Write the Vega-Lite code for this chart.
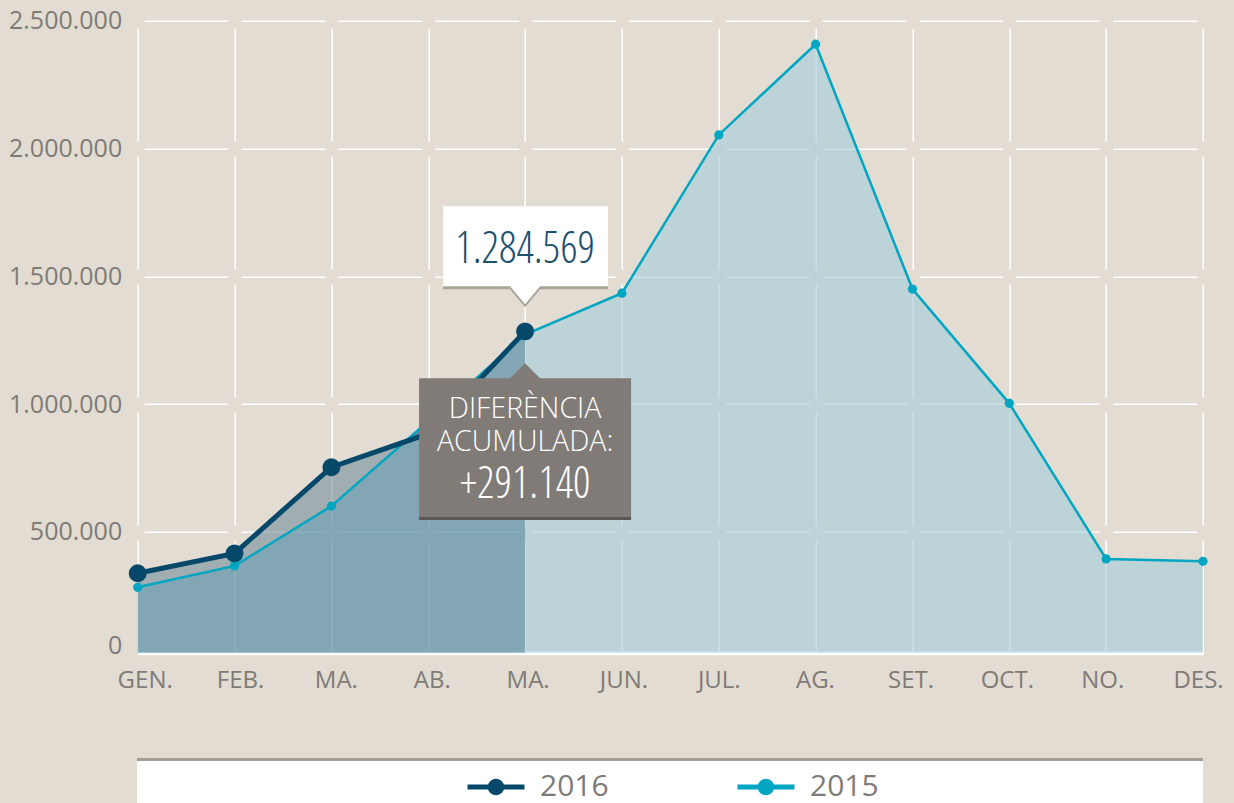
{
  "$schema": "https://vega.github.io/schema/vega-lite/v6.json",
  "width": 1065.3,
  "height": 632,
  "autosize": {"type": "none"},
  "padding": {"left": 137.7, "top": 20.7, "right": 31, "bottom": 150.3},
  "background": "#e2dcd2",
  "config": {
    "view": {"stroke": null},
    "font": "Open Sans",
    "locale": {"number": {"decimal": ",", "thousands": ".", "grouping": [3], "currency": ["", " €"]}}
  },
  "data": {
    "values": [
      {"n": 1, "y2016": 338000, "y2015": 283000},
      {"n": 2, "y2016": 416000, "y2015": 367000},
      {"n": 3, "y2016": 753000, "y2015": 601000},
      {"n": 4, "y2016": 884000, "y2015": 933000},
      {"n": 5, "y2016": 1284569, "y2015": 1272000},
      {"n": 6, "y2016": null, "y2015": 1434000},
      {"n": 7, "y2016": null, "y2015": 2053000},
      {"n": 8, "y2016": null, "y2015": 2408000},
      {"n": 9, "y2016": null, "y2015": 1450000},
      {"n": 10, "y2016": null, "y2015": 1003000},
      {"n": 11, "y2016": null, "y2015": 394000},
      {"n": 12, "y2016": null, "y2015": 385000}
    ]
  },
  "encoding": {
    "x": {"field": "n", "type": "quantitative",
      "scale": {"domain": [1, 12], "zero": false, "nice": false},
      "axis": {"title": null, "values": [1,2,3,4,5,6,7,8,9,10,11,12],
        "labelExpr": "['GEN.','FEB.','MA.','AB.','MA.','JUN.','JUL.','AG.','SET.','OCT.','NO.','DES.'][datum.value-1]",
        "labelOffset": {"condition": [
          {"test": "datum.value == 1", "value": 7}, {"test": "datum.value == 2", "value": 5.5},
          {"test": "datum.value == 3", "value": 4.5}, {"test": "datum.value == 4", "value": 3.5},
          {"test": "datum.value == 5", "value": 2.5}, {"test": "datum.value == 6", "value": 1.5},
          {"test": "datum.value == 8", "value": -0.7}, {"test": "datum.value == 9", "value": -1.9},
          {"test": "datum.value == 10", "value": -2.5}, {"test": "datum.value == 11", "value": -4},
          {"test": "datum.value == 12", "value": -5}], "value": 0},
        "grid": true, "gridColor": "white", "gridWidth": 1.5, "gridDash": [113, 15], "gridDashOffset": 120.5,
        "domainColor": "white", "domainWidth": 4, "ticks": false, "labelPadding": 16,
        "labelFontSize": 24, "labelColor": "#7f7b77", "labelFont": "Open Sans", "labelFlush": false, "labelOverlap": false}},
    "y": {"field": "y2015", "type": "quantitative",
      "scale": {"domain": [27300, 2500000], "zero": false, "nice": false},
      "axis": {"title": null, "values": [27300, 500000, 1000000, 1500000, 2000000, 2500000],
        "labelExpr": "datum.value < 100000 ? '0' : format(datum.value, ',.0f')",
        "grid": true, "gridColor": "white", "gridWidth": 1.5, "gridDash": [83.85, 13], "gridDashOffset": 90.35,
        "gridOpacity": {"condition": {"test": "datum.value < 100000", "value": 0}, "value": 1},
        "labelOffset": {"condition": {"test": "datum.value < 100000", "value": -7}, "value": 0},
        "domain": false, "ticks": false, "labelPadding": 16,
        "labelFontSize": 25, "labelColor": "#7f7b77", "labelFont": "Open Sans", "labelFlush": false, "labelOverlap": false}}
  },
  "layer": [
    {
      "encoding": {
        "x": {"datum": 1, "type": "quantitative", "scale": {"domain": [1, 12], "zero": false, "nice": false}},
        "x2": {"datum": 12},
        "y": {"datum": -392000, "type": "quantitative", "scale": {"domain": [27300, 2500000], "zero": false, "nice": false}}
      },
      "layer": [
        {"mark": {"type": "rect", "color": "white"}, "encoding": {"y2": {"datum": -800000}}},
        {"mark": {"type": "rule", "color": "#a59f93", "strokeWidth": 2.5}}
      ]
    },
    {
      "mark": {"type": "area", "color": "#a3cdda", "opacity": 0.6},
      "encoding": {"y2": {"datum": 27300}}
    },
    {
      "transform": [{"filter": "datum.n <= 5"}],
      "mark": {"type": "area", "color": "#748f9b", "opacity": 0.6},
      "encoding": {
        "y": {"field": "y2016", "type": "quantitative",
          "scale": {"domain": [27300, 2500000], "zero": false, "nice": false}},
        "y2": {"field": "y2015"}
      }
    },
    {
      "transform": [{"filter": "datum.n <= 5"}],
      "mark": {"type": "area", "color": "#2b657d", "opacity": 0.4},
      "encoding": {"y2": {"datum": 27300}}
    },
    {
      "mark": {"type": "line", "color": "#00a6c2", "strokeWidth": 2.5}
    },
    {
      "mark": {"type": "point", "filled": true, "opacity": 1, "size": 85},
      "encoding": {
        "color": {"datum": "2015", "type": "nominal",
          "scale": {"domain": ["2016", "2015"], "range": ["#054869", "#00a6c2"]},
          "legend": {"orient": "none", "legendX": 329.8, "legendY": 737.5, "direction": "horizontal", "columns": 2,
            "columnPadding": 128, "title": null, "padding": 0,
            "symbolType": "M-1,-0.088H1V0.088H-1Z M-0.29,0A0.29,0.29 0 1,1 0.29,0A0.29,0.29 0 1,1 -0.29,0Z",
            "symbolSize": 3249, "symbolStrokeWidth": 0, "symbolOpacity": 1,
            "labelFontSize": 30, "labelColor": "#7f7b77", "labelFont": "Open Sans", "labelOffset": 15.5}}
      }
    },
    {
      "transform": [{"filter": "datum.y2016 != null"}],
      "encoding": {
        "y": {"field": "y2016", "type": "quantitative",
          "scale": {"domain": [27300, 2500000], "zero": false, "nice": false}}
      },
      "layer": [
        {"mark": {"type": "line", "color": "#054869", "strokeWidth": 5}},
        {
          "mark": {"type": "point", "filled": true, "opacity": 1, "size": 320},
          "encoding": {
            "color": {"datum": "2016", "type": "nominal",
              "scale": {"domain": ["2016", "2015"], "range": ["#054869", "#00a6c2"]},
              "legend": {"orient": "none", "legendX": 329.8, "legendY": 737.5, "direction": "horizontal", "columns": 2,
                "columnPadding": 128, "title": null, "padding": 0,
                "symbolType": "M-1,-0.088H1V0.088H-1Z M-0.29,0A0.29,0.29 0 1,1 0.29,0A0.29,0.29 0 1,1 -0.29,0Z",
                "symbolSize": 3249, "symbolStrokeWidth": 0, "symbolOpacity": 1,
                "labelFontSize": 30, "labelColor": "#7f7b77", "labelFont": "Open Sans", "labelOffset": 15.5}}
          }
        }
      ]
    },
    {
      "transform": [{"filter": "datum.n == 5"}],
      "encoding": {
        "y": {"field": "y2016", "type": "quantitative",
          "scale": {"domain": [27300, 2500000], "zero": false, "nice": false}}
      },
      "layer": [
        {"mark": {"type": "point", "filled": true, "opacity": 1, "size": 4, "color": "#a9a597",
          "shape": "M-82,-122H83V-42H15L0,-24L-15,-42H-82Z"}},
        {"mark": {"type": "point", "filled": true, "opacity": 1, "size": 4, "color": "#ffffff",
          "shape": "M-82,-125H83V-45H15L0,-27L-15,-45H-82Z"}},
        {"mark": {"type": "text", "align": "center", "baseline": "alphabetic", "dy": -68, "fontSize": 43.5, "fontWeight": 300,
          "font": "'Open Sans Condensed Light', 'DejaVu Sans Condensed', sans-serif", "color": "#1d4f6e"},
          "encoding": {"text": {"field": "y2016", "type": "quantitative", "format": ",.0f"}}},
        {"mark": {"type": "point", "filled": true, "opacity": 1, "size": 4, "color": "#807b77",
          "shape": "M-106,47H-15L0,32L15,47H106V186H-106Z"}},
        {"mark": {"type": "point", "filled": true, "opacity": 1, "size": 4, "color": "#5b5653",
          "shape": "M-106,185.6H106V188.6H-106Z"}},
        {"mark": {"type": "text", "align": "center", "baseline": "alphabetic", "dy": 87, "fontSize": 28.5, "fontWeight": 300,
          "font": "Open Sans", "color": "white", "text": "DIFERÈNCIA"}},
        {"mark": {"type": "text", "align": "center", "baseline": "alphabetic", "dy": 119.3, "fontSize": 28.5, "fontWeight": 300,
          "font": "Open Sans", "color": "white", "text": "ACUMULADA:"}},
        {"mark": {"type": "text", "align": "center", "baseline": "alphabetic", "dy": 167, "fontSize": 43.5, "fontWeight": 300,
          "font": "'Open Sans Condensed Light', 'DejaVu Sans Condensed', sans-serif", "color": "white", "text": "+291.140"}}
      ]
    }
  ]
}
